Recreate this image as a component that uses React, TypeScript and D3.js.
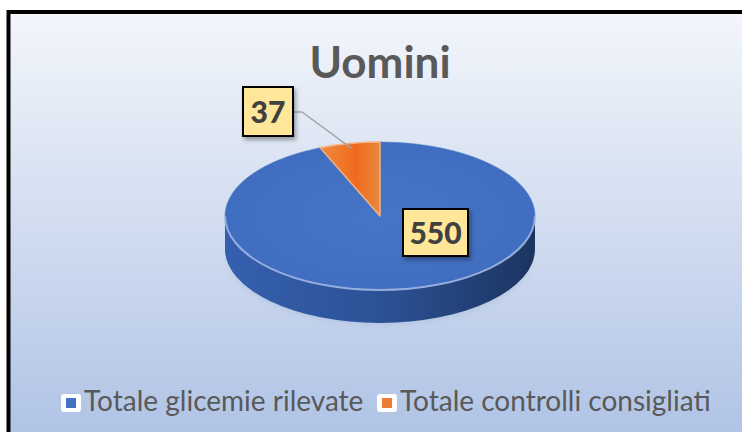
import * as d3 from "d3";

// chart data
const categories = ["Totale glicemie rilevate", "Totale controlli consigliati"];
const values = [550, 37];
const colors = ["#4472c4", "#ed7d31"];
const title = "Uomini";

const W = 742;
const H = 432;
const FONT = "Lato, 'Open Sans', sans-serif";

// pie geometry (3D ellipse)
const cx = 380;
const cy = 216;
const rx = 155;
const ry = 74;
const depth = 33;

function pt(a: number, dy = 0): [number, number] {
  return [cx + rx * Math.sin(a), cy - ry * Math.cos(a) + dy];
}

function topPath(a0: number, a1: number) {
  const p0 = pt(a0);
  const p1 = pt(a1);
  const large = a1 - a0 > Math.PI ? 1 : 0;
  return `M${cx},${cy}L${p0[0]},${p0[1]}A${rx},${ry} 0 ${large} 1 ${p1[0]},${p1[1]}Z`;
}

function sidePath(a0: number, a1: number) {
  // visible front wall between a0 and a1 (both in [PI/2, 3PI/2])
  const s = Math.max(a0, Math.PI / 2);
  const e = Math.min(a1, (3 * Math.PI) / 2);
  if (e <= s) return null;
  const p0 = pt(s);
  const p1 = pt(e);
  const q1 = pt(e, depth);
  const q0 = pt(s, depth);
  return `M${p0[0]},${p0[1]}A${rx},${ry} 0 0 1 ${p1[0]},${p1[1]}L${q1[0]},${q1[1]}A${rx},${ry} 0 0 0 ${q0[0]},${q0[1]}Z`;
}

function rimPath() {
  const p0 = pt(Math.PI / 2);
  const p1 = pt((3 * Math.PI) / 2);
  return `M${p0[0]},${p0[1]}A${rx},${ry} 0 0 1 ${p1[0]},${p1[1]}`;
}

export default function App() {
  const pie = d3.pie<number>().sort(null).value((d) => d);
  const arcs = pie(values);

  // data label boxes
  const labelBoxes = [
    { x: 403, y: 209, w: 65, h: 47 },
    { x: 243, y: 87, w: 50, h: 49 },
  ];

  // leader line for the small slice
  const mid = (arcs[1].startAngle + arcs[1].endAngle) / 2;
  const tip = pt(mid);
  const leader = d3.line()([
    [293, 112],
    [302, 112],
    [tip[0] + 2, tip[1] + 5],
  ]);

  // legend layout
  const legendX = d3.scaleOrdinal<string, number>().domain(categories).range([61, 377]);

  return (
    <svg
      width={W}
      height={H}
      style={{ position: "absolute", left: 0, top: 0, display: "block" }}
    >
      <defs>
        <linearGradient id="bg" x1="0" y1="0" x2="0" y2="1">
          <stop offset="0" stopColor="#f3f6fb" />
          <stop offset="1" stopColor="#acc0e4" />
        </linearGradient>
        <linearGradient id="side" x1="0" y1="0" x2="1" y2="0">
          <stop offset="0" stopColor="#3560ae" />
          <stop offset="0.5" stopColor="#2c5296" />
          <stop offset="1" stopColor="#1c3460" />
        </linearGradient>
        <radialGradient id="top0" cx="0.5" cy="0.5" r="0.6">
          <stop offset="0" stopColor="#4675c8" />
          <stop offset="1" stopColor="#3f6cbe" />
        </radialGradient>
        <linearGradient id="top1" x1="0" y1="0" x2="1" y2="0">
          <stop offset="0" stopColor="#f08a43" />
          <stop offset="0.6" stopColor="#f06a1c" />
          <stop offset="1" stopColor="#e8893f" />
        </linearGradient>
        <filter id="shadow" x="-20%" y="-20%" width="150%" height="150%">
          <feDropShadow dx="2" dy="3" stdDeviation="2" floodColor="#000" floodOpacity="0.35" />
        </filter>
        <filter id="blur" x="-10%" y="-10%" width="120%" height="140%">
          <feGaussianBlur stdDeviation="3" />
        </filter>
      </defs>

      <rect x={8.5} y={12} width={W + 20} height={H + 20} fill="url(#bg)" stroke="#000" strokeWidth={4} />

      <text
        x={380}
        y={78}
        textAnchor="middle"
        fontFamily={FONT}
        fontWeight={700}
        fontSize={44}
        fill="#595959"
      >
        {title}
      </text>

      {/* soft shadow under pie */}
      <ellipse cx={cx} cy={cy + depth + 6} rx={rx - 4} ry={ry - 6} fill="#7f93b8" opacity={0.35} filter="url(#blur)" />

      {/* side walls */}
      {arcs.map((a, i) => {
        const d = sidePath(a.startAngle, a.endAngle);
        return d ? <path key={"s" + i} d={d} fill={i === 0 ? "url(#side)" : "#b85a1e"} /> : null;
      })}

      {/* top faces */}
      {arcs.map((a, i) => (
        <path
          key={"t" + i}
          d={topPath(a.startAngle, a.endAngle)}
          fill={i === 0 ? "url(#top0)" : "url(#top1)"}
          stroke={i === 0 ? "#4a78c8" : "#f4b183"}
          strokeWidth={i === 0 ? 0.5 : 1.5}
          strokeLinejoin="round"
        />
      ))}

      {/* rim highlight */}
      <path d={rimPath()} fill="none" stroke="#9db5e2" strokeWidth={2} opacity={0.9} />

      {/* leader line */}
      <path d={leader ?? ""} fill="none" stroke="#a6a6a6" strokeWidth={1.5} />

      {/* data labels */}
      {arcs.map((a, i) => {
        const b = labelBoxes[i];
        return (
          <g key={"l" + i}>
            <rect x={b.x} y={b.y} width={b.w} height={b.h} fill="#ffe699" stroke="#000" strokeWidth={2} filter="url(#shadow)" />
            <text
              x={b.x + b.w / 2}
              y={b.y + b.h / 2 + 11}
              textAnchor="middle"
              fontFamily={FONT}
              fontWeight={900}
              fontSize={30}
              fill="#404040"
            >
              {a.data}
            </text>
          </g>
        );
      })}

      {/* legend */}
      {categories.map((c, i) => {
        const x = legendX(c);
        return (
          <g key={"g" + c}>
            <rect x={x} y={394} width={20} height={18} rx={3} fill="#fff" />
            <rect x={x + 5} y={398} width={10} height={10} fill={colors[i]} />
            <text x={x + 23} y={411} fontFamily={FONT} fontSize={28} fill="#595959">
              {c}
            </text>
          </g>
        );
      })}
    </svg>
  );
}
